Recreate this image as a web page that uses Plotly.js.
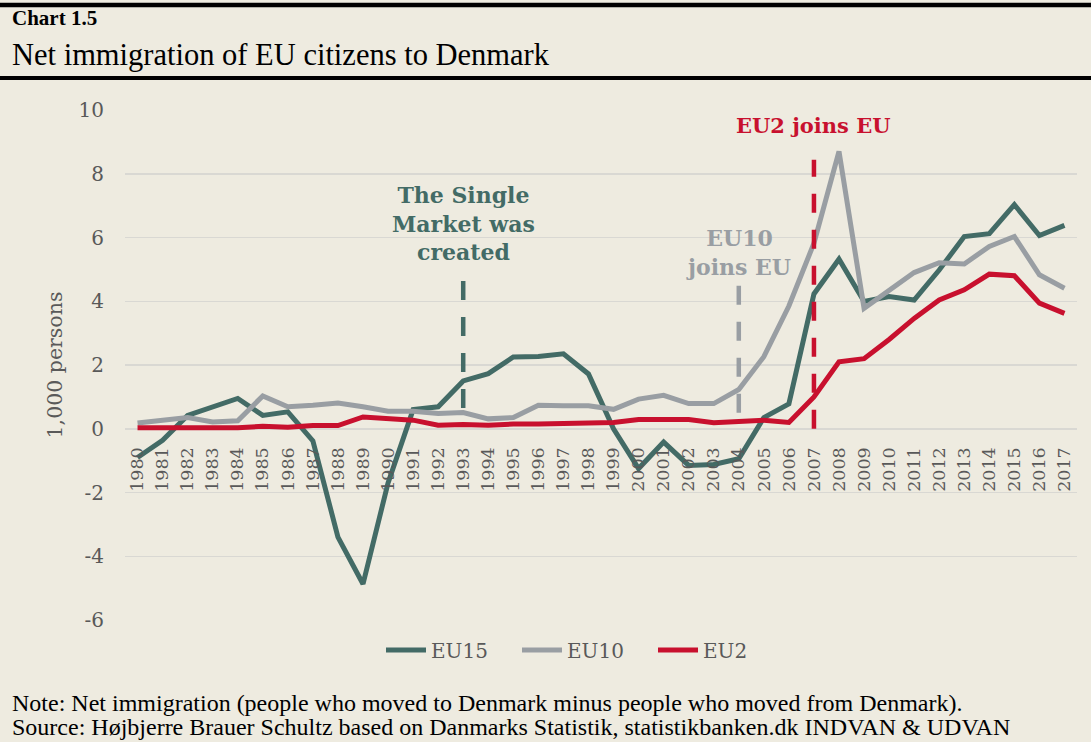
<!DOCTYPE html>
<html>
<head>
<meta charset="utf-8">
<script src="https://cdn.plot.ly/plotly-3.0.1.min.js"></script>
<style>
html,body{margin:0;padding:0;background:#EEEBE0;}
#chart{width:1091px;height:742px;}
</style>
</head>
<body>
<div id="chart"></div>
<script>
// ---- data ----
const years = ['1980','1981','1982','1983','1984','1985','1986','1987','1988','1989',
  '1990','1991','1992','1993','1994','1995','1996','1997','1998','1999',
  '2000','2001','2002','2003','2004','2005','2006','2007','2008','2009',
  '2010','2011','2012','2013','2014','2015','2016','2017'];
const eu15 = [-0.9,-0.36,0.42,0.69,0.95,0.42,0.53,-0.38,-3.4,-4.87,
  -1.7,0.6,0.69,1.5,1.73,2.25,2.27,2.35,1.72,0.0,
  -1.25,-0.42,-1.15,-1.12,-0.94,0.35,0.78,4.23,5.32,3.99,
  4.15,4.04,4.98,6.03,6.12,7.03,6.06,6.38];
const eu10 = [0.18,0.27,0.35,0.21,0.25,1.03,0.69,0.74,0.81,0.69,
  0.55,0.55,0.48,0.51,0.31,0.35,0.74,0.72,0.72,0.61,
  0.93,1.05,0.79,0.79,1.23,2.26,3.85,5.82,8.7,3.78,
  4.36,4.9,5.21,5.17,5.72,6.03,4.83,4.41];
const eu2 = [0.03,0.03,0.04,0.03,0.03,0.08,0.05,0.1,0.1,0.37,
  0.32,0.27,0.11,0.13,0.11,0.15,0.15,0.17,0.18,0.2,
  0.29,0.28,0.29,0.19,0.22,0.27,0.2,1.0,2.1,2.2,
  2.8,3.46,4.04,4.36,4.85,4.8,3.94,3.62];
const seriesNames = ['EU15','EU10','EU2'];
const yTicks = [-6,-4,-2,0,2,4,6,8,10];

// events: year, label, marker line from (bottom) to (top)
const eventYears = ['1993','2004','2007'];
const eventLabels = ['The Single<br>Market was<br>created','EU10<br>joins EU','EU2 joins EU'];
const eventLineBottom = [0.65,0.5,0.0];
const eventLineTop = [4.73,4.58,8.44];
const eventLabelY = [6.45,5.52,9.52];

const titleMain = 'Net immigration of EU citizens to Denmark';
const chartNo = 'Chart 1.5';
const yTitle = '1,000 persons';
const noteText = 'Note: Net immigration (people who moved to Denmark minus people who moved from Denmark).';
const sourceText = 'Source: Højbjerre Brauer Schultz based on Danmarks Statistik, statistikbanken.dk INDVAN &amp; UDVAN';

// ---- styles ----
const colors = ['#436B66','#999EA3','#C8102E'];
const bg = '#EEEBE0';
const grid = '#D9D8D3';
const txt = '#595959';
const serif = 'DejaVu Serif';
const serif2 = 'Liberation Serif';

const W = 1091, H = 742;
const M = {l:125, r:14, t:110, b:122};
const pw = W - M.l - M.r, ph = H - M.t - M.b;
const px = x => (x - M.l)/pw;         // pixel -> paper x
const py = y => (H - M.b - y)/ph;     // pixel -> paper y

const traces = [];
[eu15, eu10, eu2].forEach((vals, i) => {
  traces.push({
    x: years, y: vals, type:'scatter', mode:'lines', name: seriesNames[i],
    line:{color: colors[i], width:5}, hoverinfo:'skip'
  });
});
eventYears.forEach((yr, i) => {
  traces.push({
    x:[yr, yr], y:[eventLineBottom[i], eventLineTop[i]], type:'scatter', mode:'lines',
    showlegend:false, line:{color: colors[i], width:4.5, dash:'19px,17px'}, hoverinfo:'skip'
  });
});

const annotations = [];
eventYears.forEach((yr, i) => {
  annotations.push({
    x: years.indexOf(yr), y: eventLabelY[i], xref:'x', yref:'y', text:'<b>'+eventLabels[i]+'</b>',
    showarrow:false, xanchor:'center', yanchor:'middle', align:'center',
    font:{family: serif, size: i===2 ? 21 : 22, color: colors[i]}
  });
});
annotations.push({x:px(10), y:py(18), xref:'paper', yref:'paper', text:'<b>'+chartNo+'</b>',
  showarrow:false, xanchor:'left', yanchor:'middle', font:{family:serif2, size:21, color:'#000'}});
annotations.push({x:px(10), y:py(55), xref:'paper', yref:'paper', text:titleMain,
  showarrow:false, xanchor:'left', yanchor:'middle', font:{family:serif2, size:30.5, color:'#000'}});
annotations.push({x:px(10), y:py(703), xref:'paper', yref:'paper', text:noteText,
  showarrow:false, xanchor:'left', yanchor:'middle', font:{family:serif2, size:24, color:'#000'}});
annotations.push({x:px(10), y:py(727), xref:'paper', yref:'paper', text:sourceText,
  showarrow:false, xanchor:'left', yanchor:'middle', font:{family:serif2, size:24, color:'#000'}});

const shapes = [
  {type:'line', xref:'paper', yref:'paper', x0:px(0), x1:px(W), y0:py(5), y1:py(5), line:{color:'#000', width:4.5}},
  {type:'line', xref:'paper', yref:'paper', x0:px(0), x1:px(W), y0:py(78), y1:py(78), line:{color:'#000', width:4}}
];

const layout = {
  width:W, height:H,
  paper_bgcolor:bg, plot_bgcolor:bg,
  margin:M,
  showlegend:true,
  legend:{orientation:'h', x:px(381), xanchor:'left', y:py(650), yanchor:'middle', entrywidth:81,
    font:{family:serif, size:20, color:txt}, bgcolor:'rgba(0,0,0,0)', itemwidth:40, traceorder:'normal'},
  xaxis:{type:'category', categoryorder:'array', categoryarray:years, range:[-0.5, years.length-0.5],
    anchor:'free', position:6/16, showgrid:false, zeroline:false, showline:false, ticks:'',
    tickangle:-90, ticklabelstandoff:14, tickfont:{family:serif, size:17.5, color:txt}, automargin:false, fixedrange:true},
  yaxis:{range:[-6,10], tickvals:yTicks, ticktext:yTicks.map(String), showgrid:true, gridcolor:grid, gridwidth:1.5,
    zeroline:false, showline:false, ticks:'', ticklabelstandoff:20,
    tickfont:{family:serif, size:20, color:txt}, automargin:false, fixedrange:true,
    title:{text:yTitle, font:{family:serif, size:20.5, color:txt}, standoff:10}},
  annotations, shapes
};

Plotly.newPlot('chart', traces, layout, {displayModeBar:false, staticPlot:true});
</script>
</body>
</html>
